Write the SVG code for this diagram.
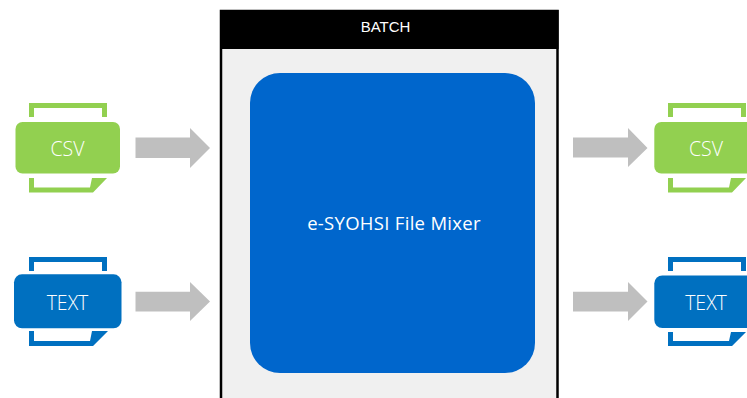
<svg xmlns="http://www.w3.org/2000/svg" width="747" height="398" viewBox="0 0 747 398">
<style>
text{font-family:"Open Sans","Noto Sans","Liberation Sans",sans-serif;fill:#fff;text-anchor:middle}
text.hdr{font-family:"Liberation Sans",Arial,sans-serif;font-size:15px}
.doc{font-size:19.500px;font-weight:300}
.arrow{fill:#bfbfbf}
.csv{fill:#92d050}
.txt{fill:#0070c0}
</style>
<rect width="747" height="398" fill="#fff"/>
<g id="batch">
<rect x="221" y="11" width="336.500" height="400" fill="#f0f0f0" stroke="#000" stroke-width="2.500"/>
<rect x="220" y="10" width="338.500" height="39" fill="#000"/>
<text class="hdr" x="385.500" y="32">BATCH</text>
</g>
<g id="mixer">
<rect x="250" y="73" width="285" height="300" rx="30" fill="#0066cc"/>
<text x="394" y="230" font-size="18.500" letter-spacing=".3">e-SYOHSI File Mixer</text>
</g>
<g id="csv-in" class="csv">
<path d="M29 103H107V117H102V108H34V117H29Z"/>
<rect x="15.500" y="122" width="104.500" height="51.500" rx="7"/>
<path d="M29 178H34V187.500H90L92 178H107L93 192.500H29Z"/>
<text class="doc" x="67.500" y="156">CSV</text>
</g>
<g id="text-in" class="txt">
<path d="M29 257H107V271H102V262H34V271H29Z"/>
<rect x="14" y="274.300" width="107.500" height="54" rx="8"/>
<path d="M29 331H34V341H90L92 331H108L93 346H29Z"/>
<text class="doc" x="67.500" y="310">TEXT</text>
</g>
<g id="csv-out" class="csv">
<path d="M668 103H746V117H741V108H673V117H668Z"/>
<rect x="654.300" y="122" width="104.500" height="51.500" rx="7"/>
<path d="M668 178H673V187.500H729L731 178H746L732 192.500H668Z"/>
<text class="doc" x="706" y="156">CSV</text>
</g>
<g id="text-out" class="txt">
<path d="M668 257H746V271H741V262H673V271H668Z"/>
<rect x="654.300" y="275.500" width="107.500" height="52.500" rx="8"/>
<path d="M668 332H673V341H729L731 332H746L732 346H668Z"/>
<text class="doc" x="706" y="310">TEXT</text>
</g>
<g id="connectors" class="arrow">
<path d="M135.500 137.500H190V128L210 148L190 168V158H135.500Z"/>
<path d="M135.500 291.800H190V282L210 301.500L190 321V311.500H135.500Z"/>
<path d="M573 137.500H628V128L647.500 148L628 167V157.500H573Z"/>
<path d="M573 291.800H628V282L647.500 301.500L628 321V311.500H573Z"/>
</g>
</svg>
